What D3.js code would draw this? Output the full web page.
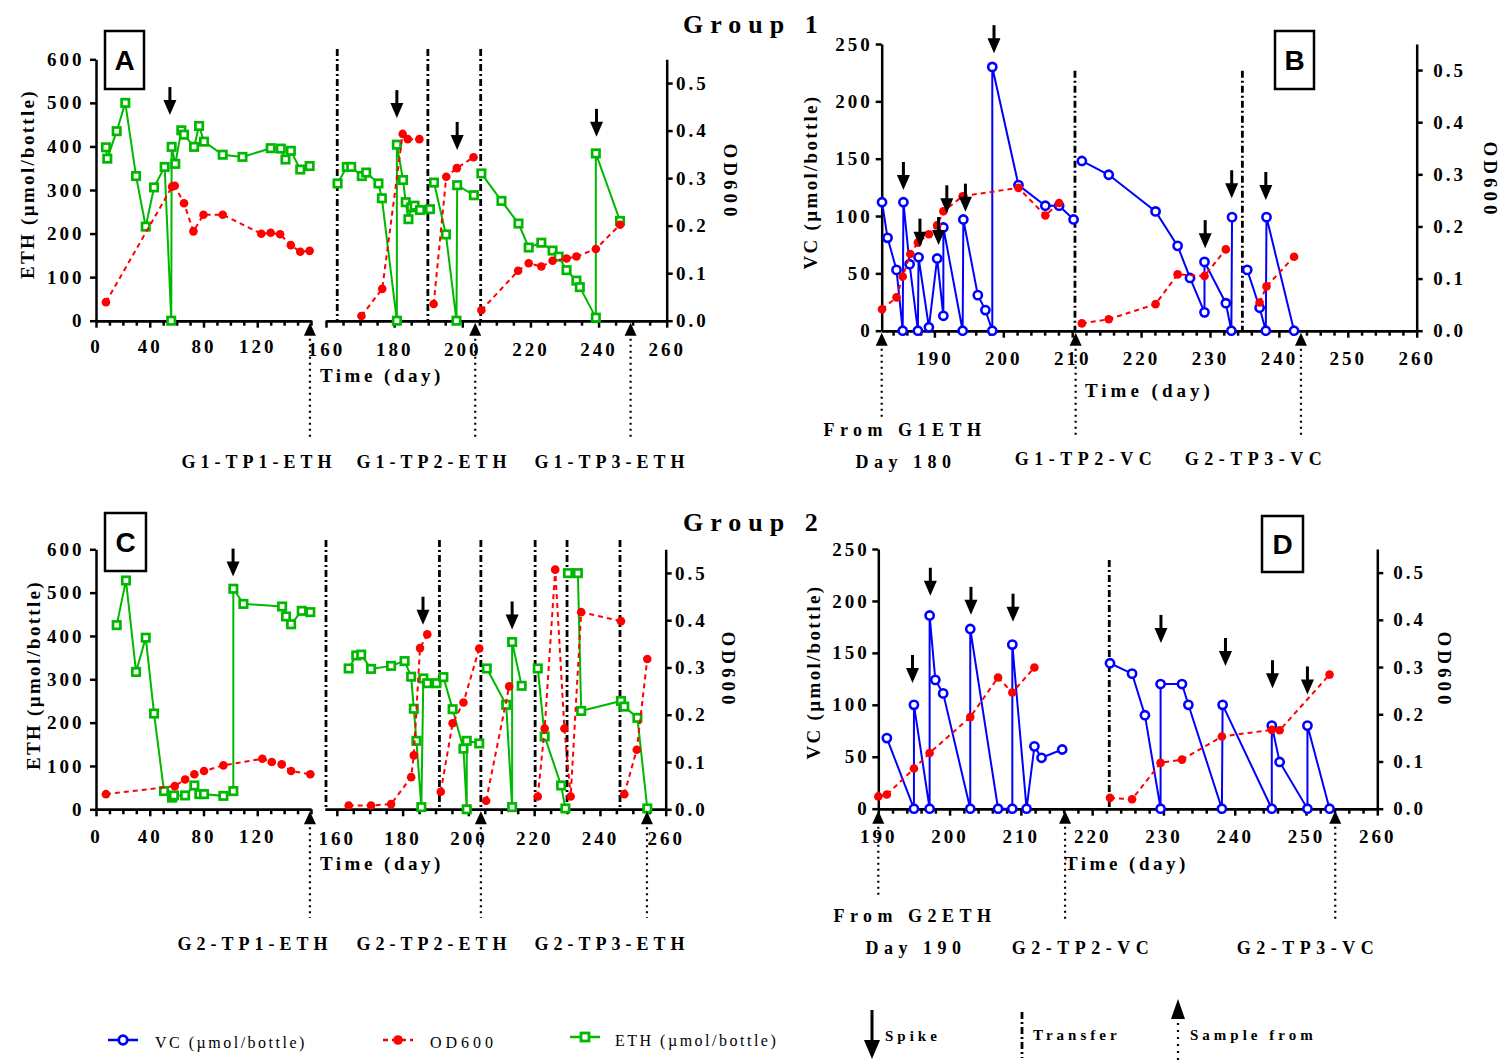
<!DOCTYPE html>
<html><head><meta charset="utf-8">
<script src="https://cdn.jsdelivr.net/npm/d3@7"></script>
<style>
body{margin:0;background:#fff}
svg{display:block}
text{font-family:"Liberation Serif","Times New Roman",serif;font-weight:bold;fill:#000}
.tl{font-size:19px;letter-spacing:3px}
</style>
</head><body><svg id="c" width="1504" height="1061"></svg>
<script>
// ---------------- DATA ----------------
// Panel A (Group 1 ETH) left time segment 0-160
const A_ETH_left = [[[7.4,398],[8.4,372],[15.4,435],[21.8,500],[29.8,332],[37,216],[43.2,306],[51.1,353],[56,0],[56.3,399],[59,360],[63.5,437],[65.5,427],[73,399],[76.7,447],[80.4,411],[94.3,381],[109,376],[130,396],[137.5,395],[141,370],[145,390],[152,347],[159,355]]];
const A_OD_left = [[[7.4,0.039],[56.6,0.282],[58.6,0.284],[65.5,0.247],[72.5,0.188],[80,0.223],[94.3,0.223],[123,0.183],[130,0.185],[137,0.182],[145,0.159],[152,0.145],[159,0.147]]];
// Panel A right time segment 160-260
const A_ETH_right = [
 [[163.4,315],[166.1,353],[167.4,353],[170.5,332],[171.8,340],[175.4,315],[176.4,281],[180.8,0],[180.8,404],[182.6,323],[183.4,272],[184.2,233],[185,260],[186,264],[187.6,254],[190.5,256]],
 [[191.7,317],[195.2,198],[198.3,0],[198.5,311],[203.4,288]],
 [[205.6,338],[211.5,275],[216.5,223],[219.5,168],[223.2,179],[226.5,161],[228.3,147],[230.6,116],[233.5,92],[234.5,77],[239.2,7],[239.2,384],[246.3,229]]
];
const A_OD_right = [
 [[170.4,0.010],[176.5,0.067],[182.5,0.393],[184,0.382],[187.4,0.382]],
 [[191.6,0.035],[195.3,0.303],[198.4,0.321],[203.3,0.344]],
 [[205.6,0.022],[216.4,0.105],[219.5,0.121],[223.2,0.114],[226.5,0.126],[230.6,0.131],[233.5,0.135],[239.2,0.151],[246.3,0.202]]
];
const A_spikes_left = [[55,472]];
const A_spikes_right = [[180.8,465],[198.5,392],[239.4,422]];
const A_transfers = [163.3,189.9,205.4];
const A_sample_left = [159.2];
const A_sample_right = [203.8,249.4];
const A_sample_labels = ["G1-TP1-ETH","G1-TP2-ETH","G1-TP3-ETH"];

// Panel B (Group 1 VC)
const B_VC = [
 [[182.4,112],[183.2,81],[184.5,53],[185.4,0],[185.5,112],[186.4,58],[187.6,0],[187.7,64],[189.2,3],[190.4,63],[191.3,13],[191.3,90],[194.1,0],[194.2,97],[196.3,31],[197.4,18],[198.4,0],[198.4,230],[202.2,127],[206.1,109],[208.1,109],[210.2,97]],
 [[211.4,148],[215.3,136],[222.1,104],[225.3,74],[227.1,46],[229.2,16],[229.2,60],[232.3,24],[233.1,0],[233.2,99]],
 [[235.4,53],[237.2,20],[238.1,0],[238.2,99],[242.2,0]]
];
const B_OD = [
 [[182.4,0.041],[184.5,0.064],[185.4,0.104],[186.5,0.147],[187.6,0.169],[189.2,0.185],[190.4,0.202],[191.3,0.229],[194.1,0.258],[202.2,0.274],[206.1,0.221],[208.1,0.245]],
 [[211.4,0.014],[215.3,0.022],[222.1,0.051],[225.3,0.108],[229.2,0.105],[232.3,0.156]],
 [[237.2,0.054],[238.2,0.085],[242.2,0.142]]
];
const B_spikes = [[185.5,122.7],[187.9,73.3],[190.6,74.7],[191.8,102.4],[194.5,103.8],[198.65,242],[229.3,72],[233.15,115.5],[238.1,114]];
const B_transfers = [210.4,234.7];
const B_samples = [182.35,210.5,243.2];

// Panel C (Group 2 ETH)
const C_ETH_left = [[[15.4,425],[22.3,528],[29.8,317],[37,396],[43.2,221],[50.6,42],[56.6,27],[58,32],[66.3,32],[73.2,55],[76.9,35],[80.4,35],[94.8,31],[102.2,42],[102.2,509],[109.7,474],[138.5,468],[141.4,445],[145.2,427],[153.1,458],[159.5,455]]];
const C_OD_left = [[[7.4,0.032],[58.6,0.049],[66.3,0.063],[73.2,0.074],[80.4,0.081],[94.8,0.093],[123.8,0.107],[130.8,0.100],[138.2,0.095],[145.2,0.081],[159.5,0.074]]];
const C_ETH_right = [
 [[163.6,325],[165.9,355],[167.4,357],[170.4,324],[176.5,331],[180.6,342],[182.6,306],[183.4,232],[184.2,158],[185.7,5],[186.3,302],[187.5,291],[190.3,291],[192.4,305],[195.2,231],[198.5,140],[199.5,0],[199.5,158],[203.3,152]],
 [[205.6,325],[211.5,241],[213.3,5],[213.3,386],[216.2,285]],
 [[221.1,325],[223.2,168],[228.2,55],[229.5,2]],
 [[230.3,545],[233.3,545],[234.3,227],[246.4,250],[247.4,237],[251.4,211],[254.4,2]]
];
const C_OD_right = [
 [[163.6,0.008],[170.4,0.008],[176.5,0.011],[182.6,0.068],[183.4,0.114],[185.3,0.341],[187.5,0.370]],
 [[191.6,0.037],[195.2,0.182],[198.5,0.226],[203.3,0.340]],
 [[205.4,0.018],[212.4,0.260]],
 [[221.1,0.027],[223.2,0.171],[226.4,0.507],[229.2,0.171],[231.1,0.027],[234.3,0.417],[246.4,0.398]],
 [[247.4,0.032],[251.2,0.126],[254.4,0.318]]
];
const C_spikes_left = [[102,537]];
const C_spikes_right = [[186.2,426],[213.3,415]];
const C_transfers = [156.7,191.2,203.8,220.3,230.0,246.1];
const C_sample_left = [159.2];
const C_sample_right = [203.8,254.3];
const C_sample_labels = ["G2-TP1-ETH","G2-TP2-ETH","G2-TP3-ETH"];

// Panel D (Group 2 VC)
const D_VC = [
 [[191.2,68],[195,0],[195,100],[197.2,0],[197.2,186],[198,124],[199.1,111],[202.9,0],[202.9,173],[206.8,0],[208.8,0],[208.8,158],[210.8,0],[211.9,60],[212.9,49],[215.8,57]],
 [[222.5,140],[225.6,130],[227.4,90],[229.6,0],[229.6,120],[232.6,120],[233.5,100],[238.2,0],[238.3,100],[245.2,0],[245.2,80],[246.3,45],[250.2,0],[250.2,80],[253.3,0]]
];
const D_OD = [
 [[190,0.026],[191.2,0.030],[195,0.085],[197.2,0.118],[202.9,0.194],[206.8,0.278],[208.8,0.246],[211.9,0.299]],
 [[222.5,0.023],[225.6,0.020],[229.6,0.097],[232.6,0.104],[238.2,0.153],[245.2,0.167],[246.3,0.166],[253.3,0.284]]
];
const D_spikes = [[194.8,121],[197.3,205],[203,186.6],[208.9,180],[229.65,159.6],[238.7,137.4],[245.3,116],[250.2,110]];
const D_transfers = [222.4];
const D_samples = [190,216.2,254.1];

// Axis ticks
const ethTicks = [0,100,200,300,400,500,600];
const vcTicks = [0,50,100,150,200,250];
const odTicks = [0,0.1,0.2,0.3,0.4,0.5];
const leftSegMajor = [0,40,80,120];
const rightSegMajor = [160,180,200,220,240,260];
const vcDayMajor = [190,200,210,220,230,240,250,260];

// ---------------- DRAWING ----------------
const svg = d3.select("#c");
const BLUE="#0000ff", RED="#ff0000", GREEN="#00b800";

const xA1=d3.scaleLinear().domain([0,160]).range([96,311]);
const xA2=d3.scaleLinear().domain([160,260]).range([326,666.7]);
const yA=d3.scaleLinear().domain([0,600]).range([320.7,59.3]);
const oA=d3.scaleLinear().domain([0,0.55]).range([320.7,59.3]);

const xB=d3.scaleLinear().domain([182.35,260]).range([881.7,1416.7]);
const yB=d3.scaleLinear().domain([0,250]).range([330.7,44]);
const oB=d3.scaleLinear().domain([0,0.55]).range([330.7,44]);

const xC1=d3.scaleLinear().domain([0,160]).range([96,311]);
const xC2=d3.scaleLinear().domain([156.4,260]).range([325,665.7]);
const yC=d3.scaleLinear().domain([0,600]).range([809.3,549.3]);
const oC=d3.scaleLinear().domain([0,0.55]).range([809.3,549.3]);

const xD=d3.scaleLinear().domain([190,260]).range([878.3,1377.3]);
const yD=d3.scaleLinear().domain([0,250]).range([808.7,549]);
const oD=d3.scaleLinear().domain([0,0.55]).range([808.7,549]);

function styleAxis(g){
  g.attr("font-family",null).attr("font-size",null);
  g.selectAll(".domain").attr("stroke","#000").attr("stroke-width",2.5);
  g.selectAll(".tick line").attr("stroke","#000").attr("stroke-width",2.5);
  g.selectAll(".tick text").attr("class","tl");
}
function range(a,b,s){const r=[];for(let v=a;v<=b+1e-9;v+=s)r.push(+v.toFixed(4));return r;}
function xAxis(sc,y,majors,minors,pad){
  svg.append("g").attr("transform",`translate(0,${y})`)
    .call(d3.axisBottom(sc).tickValues(minors).tickSize(5).tickSizeOuter(0).tickFormat(()=>"")).call(styleAxis);
  svg.append("g").attr("transform",`translate(0,${y})`)
    .call(d3.axisBottom(sc).tickValues(majors).tickSize(7).tickSizeOuter(0).tickPadding(pad).tickFormat(d3.format("d"))).call(styleAxis);
}
function yAxis(sc,x,ticks,left,pad,fmt){
  const ax=(left?d3.axisLeft(sc):d3.axisRight(sc)).tickValues(ticks).tickSize(6).tickSizeOuter(0).tickPadding(pad).tickFormat(fmt);
  svg.append("g").attr("transform",`translate(${x},0)`).call(ax).call(styleAxis);
}
function series(xs,ys,segs,kind){
  const color = kind==="vc"?BLUE:(kind==="od"?RED:GREEN);
  const line=d3.line().x(d=>xs(d[0])).y(d=>ys(d[1]));
  const g=svg.append("g");
  segs.forEach(seg=>{
    g.append("path").attr("d",line(seg)).attr("fill","none").attr("stroke",color)
     .attr("stroke-width",2).attr("stroke-dasharray",kind==="od"?"5,4":null);
  });
  const pts=segs.flat();
  if(kind==="vc"){
    g.selectAll("circle").data(pts).join("circle").attr("cx",d=>xs(d[0])).attr("cy",d=>ys(d[1]))
      .attr("r",4.1).attr("fill","#fff").attr("stroke",color).attr("stroke-width",2.6);
  } else if(kind==="od"){
    g.selectAll("circle").data(pts).join("circle").attr("cx",d=>xs(d[0])).attr("cy",d=>ys(d[1]))
      .attr("r",4.3).attr("fill",color);
  } else {
    g.selectAll("rect").data(pts).join("rect").attr("x",d=>xs(d[0])-3.7).attr("y",d=>ys(d[1])-3.7)
      .attr("width",7.4).attr("height",7.4).attr("fill","#fff").attr("stroke",color).attr("stroke-width",2.7);
  }
}
function spike(x,yTip){
  svg.append("line").attr("x1",x).attr("x2",x).attr("y1",yTip-28).attr("y2",yTip-12).attr("stroke","#000").attr("stroke-width",3);
  svg.append("path").attr("d",`M${x-6.5},${yTip-15}L${x+6.5},${yTip-15}L${x},${yTip}Z`).attr("fill","#000");
}
function transfer(x,yTop,yBot){
  svg.append("line").attr("x1",x).attr("x2",x).attr("y1",yTop).attr("y2",yBot).attr("stroke","#000")
    .attr("stroke-width",2.8).attr("stroke-dasharray","7,3,2,3");
}
function sample(x,yAx,yEnd){
  svg.append("path").attr("d",`M${x},${yAx+2}L${x+6},${yAx+15}L${x-6},${yAx+15}Z`).attr("fill","#000");
  svg.append("line").attr("x1",x).attr("x2",x).attr("y1",yAx+18).attr("y2",yEnd).attr("stroke","#000")
    .attr("stroke-width",2.2).attr("stroke-dasharray","2,4");
}
function txt(x,y,s,o={}){
  const t=svg.append("text").attr("x",x).attr("y",y).text(s)
    .style("font-size",(o.size||19)+"px").style("letter-spacing",(o.ls==null?2:o.ls)+"px")
    .attr("text-anchor",o.anchor||"start");
  if(o.weight) t.style("font-weight",o.weight);
  if(o.family) t.style("font-family",o.family);
  if(o.rot!=null){t.attr("transform",`rotate(${o.rot},${x},${y})`).attr("dominant-baseline","central");}
  return t;
}
function box(x,y,w,h,letter){
  svg.append("rect").attr("x",x).attr("y",y).attr("width",w).attr("height",h).attr("fill","#fff").attr("stroke","#000").attr("stroke-width",2.5);
  txt(x+w/2,y+h/2+10,letter,{size:28,ls:0,anchor:"middle",family:"Liberation Sans, Arial, sans-serif"});
}
const f1=d3.format(".1f"), fd=d3.format("d");

// Titles
txt(683,33,"Group 1",{size:26,ls:7});
txt(683,531,"Group 2",{size:26,ls:7});

// ===== Panel A =====
A_transfers.forEach(d=>transfer(xA2(d),49,320));
xAxis(xA1,320.7,leftSegMajor,range(10,160,10).filter(v=>v%40!==0||v===160),12);
xAxis(xA2,320.7,rightSegMajor,range(165,255,5).filter(v=>v%20!==0),15);
yAxis(yA,96,ethTicks,true,5.5,fd);
yAxis(oA,666.7,odTicks,false,3.3,f1);
series(xA1,yA,A_ETH_left,"eth");
series(xA2,yA,A_ETH_right,"eth");
series(xA1,oA,A_OD_left,"od");
series(xA2,oA,A_OD_right,"od");
A_spikes_left.forEach(d=>spike(xA1(d[0]),yA(d[1])));
A_spikes_right.forEach(d=>spike(xA2(d[0]),yA(d[1])));
A_sample_left.forEach(d=>sample(xA1(d),320.7,437));
A_sample_right.forEach(d=>sample(xA2(d),320.7,437));
box(105,31,39,58,"A");
txt(27,184,"ETH (µmol/bottle)",{rot:-90,anchor:"middle",ls:2.3});
txt(730,182,"OD600",{rot:90,anchor:"middle",ls:4});
txt(320,382,"Time (day)",{ls:3.5});
[259,434,612].forEach((cx,i)=>txt(cx,468,A_sample_labels[i],{size:18,ls:5,anchor:"middle"}));

// ===== Panel B =====
B_transfers.forEach(d=>transfer(xB(d),70.7,330));
xAxis(xB,330.7,vcDayMajor,range(184,258,2).filter(v=>v%10!==0),14);
yAxis(yB,881.7,vcTicks,true,3,fd);
yAxis(oB,1416.7,odTicks,false,10.5,f1);
series(xB,yB,B_VC,"vc");
series(xB,oB,B_OD,"od");
B_spikes.forEach(d=>spike(xB(d[0]),yB(d[1])));
sample(xB(B_samples[0]),330.7,418);
sample(xB(B_samples[1]),330.7,437);
sample(xB(B_samples[2]),330.7,437);
box(1275,31,39,58,"B");
txt(810,182,"VC (µmol/bottle)",{rot:-90,anchor:"middle",ls:2.3});
txt(1490,180,"OD600",{rot:90,anchor:"middle",ls:4});
txt(1085,397,"Time (day)",{ls:4});
txt(905,436,"From G1ETH",{size:18,ls:5.5,anchor:"middle"});
txt(906,468,"Day 180",{size:18,ls:5.5,anchor:"middle"});
txt(1086,465,"G1-TP2-VC",{size:18,ls:5.5,anchor:"middle"});
txt(1256,465,"G2-TP3-VC",{size:18,ls:5.5,anchor:"middle"});

// ===== Panel C =====
C_transfers.forEach(d=>transfer(xC2(d),540,809));
xAxis(xC1,809.3,leftSegMajor,range(10,160,10).filter(v=>v%40!==0||v===160),13.5);
xAxis(xC2,809.3,rightSegMajor,range(160,255,5).filter(v=>v%20!==0),15);
yAxis(yC,96,ethTicks,true,5.5,fd);
yAxis(oC,665.7,odTicks,false,3.3,f1);
series(xC1,yC,C_ETH_left,"eth");
series(xC2,yC,C_ETH_right,"eth");
series(xC1,oC,C_OD_left,"od");
series(xC2,oC,C_OD_right,"od");
C_spikes_left.forEach(d=>spike(xC1(d[0]),yC(d[1])));
C_spikes_right.forEach(d=>spike(xC2(d[0]),yC(d[1])));
C_sample_left.forEach(d=>sample(xC1(d),809.3,918));
C_sample_right.forEach(d=>sample(xC2(d),809.3,918));
box(105,513,41,58,"C");
txt(33,675,"ETH (µmol/bottle)",{rot:-90,anchor:"middle",ls:2.3});
txt(728,670,"OD600",{rot:90,anchor:"middle",ls:4});
txt(320,870,"Time (day)",{ls:3.5});
[255,434,612].forEach((cx,i)=>txt(cx,950,C_sample_labels[i],{size:18,ls:5,anchor:"middle"}));

// ===== Panel D =====
D_transfers.forEach(d=>transfer(xD(d),560,808));
xAxis(xD,808.7,vcDayMajor,range(192,258,2).filter(v=>v%10!==0),14);
yAxis(yD,878.3,vcTicks,true,2.5,fd);
yAxis(oD,1377.3,odTicks,false,10,f1);
series(xD,yD,D_VC,"vc");
series(xD,oD,D_OD,"od");
D_spikes.forEach(d=>spike(xD(d[0]),yD(d[1])));
sample(xD(D_samples[0]),808.7,895);
sample(xD(D_samples[1]),808.7,920);
sample(xD(D_samples[2]),808.7,922);
box(1262,516,41,56,"D");
txt(813,672,"VC (µmol/bottle)",{rot:-90,anchor:"middle",ls:2.3});
txt(1444,670,"OD600",{rot:90,anchor:"middle",ls:4});
txt(1065,870,"Time (day)",{ls:3.5});
txt(915,922,"From G2ETH",{size:18,ls:5.5,anchor:"middle"});
txt(916,954,"Day 190",{size:18,ls:5.5,anchor:"middle"});
txt(1083,954,"G2-TP2-VC",{size:18,ls:5.5,anchor:"middle"});
txt(1308,954,"G2-TP3-VC",{size:18,ls:5.5,anchor:"middle"});

// ===== Legend =====
const lg=svg.append("g");
lg.append("line").attr("x1",108).attr("x2",138).attr("y1",1040).attr("y2",1040).attr("stroke",BLUE).attr("stroke-width",2.5);
lg.append("circle").attr("cx",123).attr("cy",1040).attr("r",4.3).attr("fill","#fff").attr("stroke",BLUE).attr("stroke-width",2.8);
txt(155,1048,"VC (µmol/bottle)",{size:16,ls:2.5,weight:"normal"});
lg.append("line").attr("x1",383).attr("x2",413).attr("y1",1040).attr("y2",1040).attr("stroke",RED).attr("stroke-width",2.5).attr("stroke-dasharray","5,4");
lg.append("circle").attr("cx",398).attr("cy",1040).attr("r",4.8).attr("fill",RED);
txt(430,1048,"OD600",{size:16,ls:4,weight:"normal"});
lg.append("line").attr("x1",570).attr("x2",600).attr("y1",1037).attr("y2",1037).attr("stroke",GREEN).attr("stroke-width",2.5);
lg.append("rect").attr("x",581).attr("y",1033).attr("width",8).attr("height",8).attr("fill","#fff").attr("stroke",GREEN).attr("stroke-width",2.8);
txt(615,1046,"ETH (µmol/bottle)",{size:16,ls:2.5,weight:"normal"});
svg.append("line").attr("x1",872).attr("x2",872).attr("y1",1010).attr("y2",1042).attr("stroke","#000").attr("stroke-width",3);
svg.append("path").attr("d","M864,1040L880,1040L872,1059Z").attr("fill","#000");
txt(885,1041,"Spike",{size:15,ls:4});
transfer(1022,1012,1058);
txt(1033,1040,"Transfer",{size:15,ls:4});
svg.append("path").attr("d","M1178,999L1185,1019L1171,1019Z").attr("fill","#000");
svg.append("line").attr("x1",1178).attr("x2",1178).attr("y1",1023).attr("y2",1061).attr("stroke","#000").attr("stroke-width",2.2).attr("stroke-dasharray","2,5");
txt(1190,1040,"Sample from",{size:15,ls:4});
</script>
</body></html>
